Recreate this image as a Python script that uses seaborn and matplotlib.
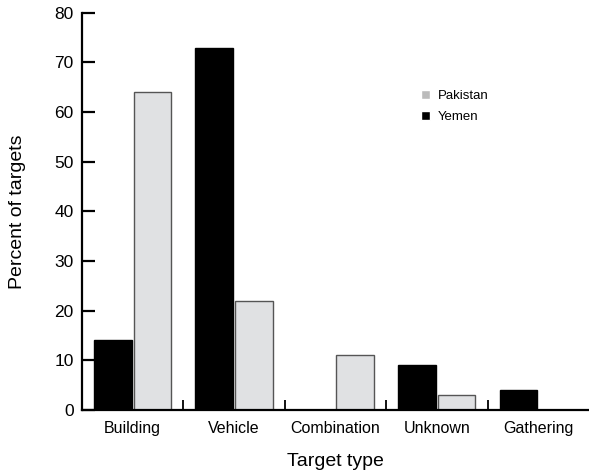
import seaborn as sns
import matplotlib.pyplot as plt
import matplotlib.patches as mpatches
import numpy as np
import pandas as pd

categories = ["Building", "Vehicle", "Combination", "Unknown", "Gathering"]
yemen = [14, 73, 0, 9, 4]
pakistan = [64, 22, 11, 3, 0]

df = pd.DataFrame({
    "type": categories * 2,
    "country": ["Yemen"] * 5 + ["Pakistan"] * 5,
    "pct": yemen + pakistan,
})

sns.set_style("ticks")
plt.rcParams["font.family"] = ["Liberation Sans", "DejaVu Sans"]
plt.rcParams["text.color"] = "black"
plt.rcParams["axes.labelcolor"] = "black"
plt.rcParams["xtick.color"] = "black"
plt.rcParams["ytick.color"] = "black"

fig = plt.figure(figsize=(5.89, 4.75), dpi=100)
ax = fig.add_axes([0.139, 0.137, 0.861, 0.836])

sns.barplot(data=df, x="type", y="pct", hue="country", order=categories,
            hue_order=["Yemen", "Pakistan"],
            palette={"Yemen": "black", "Pakistan": "#e0e1e3"},
            width=0.78, gap=0.05, legend=False, ax=ax)

for bar in ax.patches:
    fc = bar.get_facecolor()
    if fc[0] > 0.5:
        bar.set_edgecolor("#555555")
        bar.set_linewidth(1.0)
    else:
        bar.set_edgecolor("black")

ax.set_xlim(-0.5, 4.5)
ax.set_ylim(0, 80)
ax.set_yticks(np.arange(0, 81, 10))
sns.despine(ax=ax)
for s in ["left", "bottom"]:
    ax.spines[s].set_linewidth(1.6)
    ax.spines[s].set_color("black")

ax.tick_params(axis="y", direction="in", length=9, width=1.6, labelsize=12.5, pad=6)
ax.tick_params(axis="x", which="major", length=0, labelsize=11.5, pad=8)
ax.set_xticks([0.5, 1.5, 2.5, 3.5], minor=True)
ax.tick_params(axis="x", which="minor", direction="in", length=7, width=1.3)

ax.set_xlabel("Target type", fontsize=14, labelpad=12)
ax.set_ylabel("Percent of targets", fontsize=14, labelpad=20)

handles = [mpatches.Patch(facecolor="#bbbbbb", label="Pakistan"),
           mpatches.Patch(facecolor="black", label="Yemen")]
ax.legend(handles=handles, loc="upper left", bbox_to_anchor=(0.645, 0.835),
          frameon=False, fontsize=9.5, handlelength=0.7, handleheight=0.7,
          handletextpad=0.6, labelspacing=0.65)

fig.savefig("out.png", dpi=100)
